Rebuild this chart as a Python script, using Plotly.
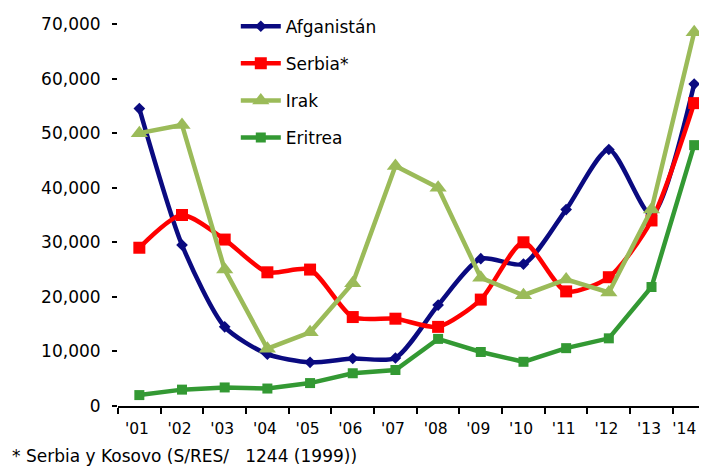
import plotly.graph_objects as go

years = ["'01", "'02", "'03", "'04", "'05", "'06", "'07", "'08", "'09", "'10", "'11", "'12", "'13", "'14"]
afganistan = [54500, 29500, 14500, 9500, 8000, 8700, 8800, 18500, 27000, 26000, 36000, 47000, 35000, 59000]
serbia = [29000, 35000, 30500, 24500, 25000, 16300, 16000, 14500, 19500, 30000, 21000, 23600, 34000, 55500]
irak = [50000, 51500, 25000, 10500, 13500, 22500, 44000, 40000, 23500, 20300, 23200, 20800, 36000, 68500]
eritrea = [2000, 3000, 3400, 3200, 4200, 6000, 6600, 12300, 9900, 8100, 10600, 12400, 21800, 47800]
yticks = [0, 10000, 20000, 30000, 40000, 50000, 60000, 70000]

FONT = "DejaVu Sans, Verdana, sans-serif"

fig = go.Figure()
series = [
    ("Afganistán", afganistan, "#0A0A80", "diamond", 9, "spline"),
    ("Serbia*", serbia, "#FF0000", "square", 12, "spline"),
    ("Irak", irak, "#9BBB59", "triangle-up", 15, "linear"),
    ("Eritrea", eritrea, "#339933", "square", 10, "linear"),
]
for name, vals, col, sym, sz, shape in series:
    fig.add_trace(go.Scatter(
        x=years, y=vals, name=name, legendgroup=name,
        mode="lines+markers",
        line=dict(color=col, width=4.5, shape=shape, smoothing=0.7),
        marker=dict(color=col, symbol=sym, size=sz),
        cliponaxis=False,
    ))

ticktext = [y + "\u00a0" for y in years]
ticktext[-1] = years[-1] + "\u00a0\u00a0\u00a0\u00a0"

fig.update_layout(
    width=699, height=460,
    margin=dict(l=110, r=0, t=16, b=62),
    paper_bgcolor="white", plot_bgcolor="white",
    font=dict(family=FONT, size=16, color="#000000"),
    showlegend=True,
    legend=dict(x=0.2, y=1.04, xanchor="left", yanchor="top",
                bgcolor="rgba(0,0,0,0)", font=dict(size=17),
                tracegroupgap=12, itemwidth=40),
    annotations=[dict(
        text="* Serbia y Kosovo (S/RES/   1244 (1999))",
        xref="paper", yref="paper", x=-108/589, y=-0.1,
        xanchor="left", yanchor="top", showarrow=False,
        font=dict(size=17, color="#000000"),
    )],
)
fig.update_xaxes(
    type="category", range=[-0.5, 13.3],
    tickvals=years, ticktext=ticktext,
    tickangle=0, automargin=False,
    showline=True, linecolor="black", linewidth=2,
    ticks="outside", tickson="boundaries", ticklen=6, tickwidth=2, tickcolor="black",
    showgrid=False, zeroline=False,
    ticklabelstandoff=7,
    tickfont=dict(size=15.5),
)
fig.update_yaxes(
    range=[0, 70000], tickvals=yticks, tickformat=",",
    automargin=False,
    showline=False, showgrid=False, zeroline=False,
    ticks="outside", ticklen=5, tickwidth=1.5, tickcolor="black",
    ticklabelstandoff=8,
    tickfont=dict(size=17),
)
fig.write_html("out.html")
